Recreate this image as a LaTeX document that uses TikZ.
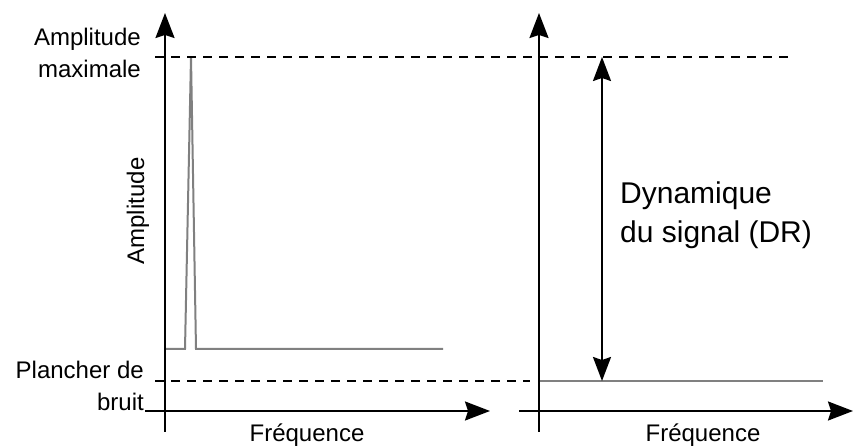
\documentclass[tikz,border=0pt]{standalone}
\usepackage{fontspec}
\setmainfont{Liberation Sans}
\usepackage{xcolor}
\definecolor{tracegray}{RGB}{128,128,128}
\usetikzlibrary{arrows.meta}
\tikzset{
    tip/.style={-{Stealth[length=25pt, width=19pt, inset=3pt]}},
    axis/.style={tip, line width=2pt},
    trace/.style={line width=2pt, tracegray},
    level/.style={line width=2pt, dash pattern=on 9pt off 7pt},
    span/.style={line width=2pt, {Stealth[length=24pt, width=18pt, inset=3pt]}-{Stealth[length=24pt, width=18pt, inset=3pt]}},
    lbl/.style={font=\fontsize{24}{32}\selectfont, inner sep=0pt},
    big/.style={font=\fontsize{30}{39}\selectfont, inner sep=0pt, align=left}
}
\begin{document}
\begin{tikzpicture}[x=1pt, y=-1pt]
      \useasboundingbox (0,0) rectangle (855,446);

      % left plot
      \path
          (165,432) coordinate (l-low)
          (165,13) coordinate (l-top)
          (145,411) coordinate (l-start)
          (490,411) coordinate (l-end)
          (165,349) coordinate (l-base)
          (185,349) coordinate (peak-in)
          (191,57) coordinate (peak)
          (196,349) coordinate (peak-out)
          (443,349) coordinate (l-base-end)
          (155,57) coordinate (max-start)
          (790,57) coordinate (max-end)
          (155,381) coordinate (floor-start)
          (530,381) coordinate (floor-end)
          (141,28) node[lbl, anchor=north east, align=right] (max-label) {Amplitude\\maximale}
          (144,361) node[lbl, anchor=north east, align=right] (floor-label) {Plancher de\\bruit}
          (138,211) node[lbl, rotate=90] (amp-label) {Amplitude}
          (307,442) node[lbl, anchor=base] (l-freq) {Fréquence};

      \draw[trace] (l-base) -- (peak-in) -- (peak) -- (peak-out) -- (l-base-end);
      \draw[level] (max-start) -- (max-end);
      \draw[level] (floor-start) -- (floor-end);
      \draw[axis] (l-low) -- (l-top);
      \draw[axis] (l-start) -- (l-end);

      % right plot
      \path
          (539,432) coordinate (r-low)
          (539,13) coordinate (r-top)
          (519,411) coordinate (r-start)
          (853,411) coordinate (r-end)
          (539,381) coordinate (r-floor)
          (823,381) coordinate (r-floor-end)
          (602,57) coordinate (dr-top)
          (602,381) coordinate (dr-low)
          (620,182) node[big, anchor=north west] (dr-label) {Dynamique\\du signal (DR)}
          (703,442) node[lbl, anchor=base] (r-freq) {Fréquence};

      \draw[trace] (r-floor) -- (r-floor-end);
      \draw[span] (dr-top) -- (dr-low);
      \draw[axis] (r-low) -- (r-top);
      \draw[axis] (r-start) -- (r-end);
\end{tikzpicture}
\end{document}
